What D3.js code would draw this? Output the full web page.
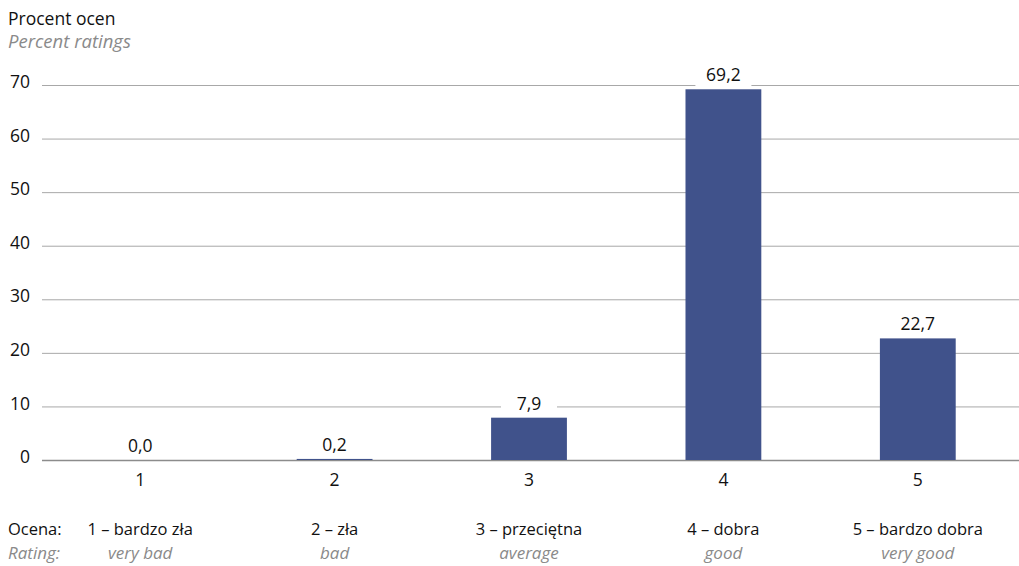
<!DOCTYPE html>
<html>
<head>
<meta charset="utf-8">
<script src="https://cdn.jsdelivr.net/npm/d3@7"></script>
<style>
  body { margin: 0; background: #fff; }
  svg text { font-family: "Open Sans", "Noto Sans", sans-serif; }
</style>
</head>
<body>
<svg id="chart"></svg>
<script>
/* Data */
const categories = ["1", "2", "3", "4", "5"];
const percentValues = [0.0, 0.2, 7.9, 69.2, 22.7];
const yTicks = [0, 10, 20, 30, 40, 50, 60, 70];
const ratingNamesPl = ["1 – bardzo zła", "2 – zła", "3 – przeciętna", "4 – dobra", "5 – bardzo dobra"];
const ratingNamesEn = ["very bad", "bad", "average", "good", "very good"];

const data = categories.map((c, i) => ({ cat: c, value: percentValues[i] }));

/* Dimensions */
const W = 1019, H = 566;
const margin = { top: 85, right: 4, bottom: 106, left: 42 };
const mainSize = "17.5px", italSize = "18.5px";
const legSize = "16.5px", legItalSize = "17px";

const svg = d3.select("#chart")
    .attr("width", W)
    .attr("height", H);

/* Scales */
const x = d3.scaleBand()
    .domain(categories)
    .range([margin.left + 1, W - margin.right])
    .paddingInner(0.61)
    .paddingOuter(0.305);

const y = d3.scaleLinear()
    .domain([0, 70])
    .range([H - margin.bottom, margin.top]);

/* Titles */
svg.append("text")
    .attr("x", 8).attr("y", 25)
    .style("font-size", mainSize).attr("fill", "#111")
    .text("Procent ocen");
svg.append("text")
    .attr("x", 8).attr("y", 48)
    .style("font-size", italSize).style("font-style", "italic").attr("fill", "#8a8a8a")
    .text("Percent ratings");

/* Gridlines + y labels */
const yAxis = d3.axisLeft(y)
    .tickValues(yTicks)
    .tickSize(-(W - margin.left))
    .tickFormat(d3.format("d"));

const gy = svg.append("g")
    .attr("transform", `translate(${margin.left},0)`)
    .call(yAxis);
gy.select(".domain").remove();
gy.selectAll(".tick line")
    .attr("stroke", d => d === 0 ? "#8c8c8c" : "#a8a8a8")
    .attr("stroke-width", d => d === 0 ? 1.5 : 1);
gy.selectAll(".tick text")
    .attr("x", -12)
    .attr("dy", "0.15em")
    .style("font-size", mainSize)
    .attr("fill", "#111");

/* Bars */
svg.selectAll(".bar")
    .data(data)
    .join("rect")
      .attr("class", "bar")
      .attr("x", d => x(d.cat))
      .attr("y", d => y(d.value))
      .attr("width", x.bandwidth())
      .attr("height", d => y(0) - y(d.value))
      .attr("fill", "#40528b");

/* Value labels with white background */
const fmt = v => v.toFixed(1).replace(".", ",");
const labels = svg.selectAll(".label")
    .data(data)
    .join("g")
      .attr("class", "label")
      .attr("transform", d => `translate(${x(d.cat) + x.bandwidth() / 2},${y(d.value) - 8})`);
labels.append("rect")
    .attr("x", -28).attr("y", -18)
    .attr("width", 56).attr("height", 23)
    .attr("fill", "#fff");
labels.append("text")
    .attr("text-anchor", "middle")
    .style("font-size", mainSize)
    .attr("fill", "#111")
    .text(d => fmt(d.value));

/* X tick labels */
svg.selectAll(".xlab")
    .data(categories)
    .join("text")
      .attr("class", "xlab")
      .attr("x", d => x(d) + x.bandwidth() / 2)
      .attr("y", y(0) + 26)
      .attr("text-anchor", "middle")
      .style("font-size", mainSize)
      .attr("fill", "#111")
      .text(d => d);

/* Bottom legend table */
const rowPl = 535, rowEn = 559;
svg.append("text")
    .attr("x", 8).attr("y", rowPl)
    .style("font-size", legSize).attr("fill", "#111")
    .text("Ocena:");
svg.append("text")
    .attr("x", 8).attr("y", rowEn)
    .style("font-size", legItalSize).style("font-style", "italic").attr("fill", "#8a8a8a")
    .text("Rating:");

svg.selectAll(".plName")
    .data(ratingNamesPl)
    .join("text")
      .attr("class", "plName")
      .attr("x", (d, i) => x(categories[i]) + x.bandwidth() / 2)
      .attr("y", rowPl)
      .attr("text-anchor", "middle")
      .style("font-size", legSize)
      .attr("fill", "#111")
      .text(d => d);

svg.selectAll(".enName")
    .data(ratingNamesEn)
    .join("text")
      .attr("class", "enName")
      .attr("x", (d, i) => x(categories[i]) + x.bandwidth() / 2)
      .attr("y", rowEn)
      .attr("text-anchor", "middle")
      .style("font-size", legItalSize)
      .style("font-style", "italic")
      .attr("fill", "#8a8a8a")
      .text(d => d);
</script>
</body>
</html>
